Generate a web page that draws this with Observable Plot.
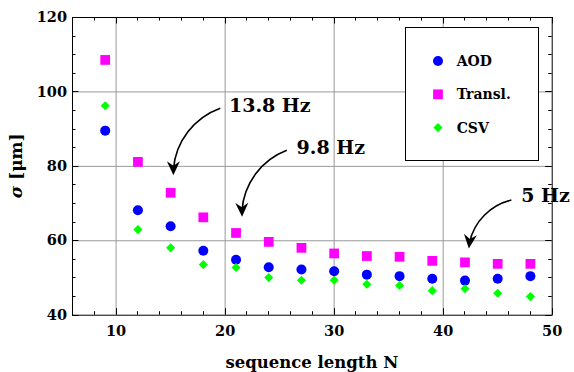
<!DOCTYPE html>
<html><head><meta charset="utf-8">
<script src="https://cdn.jsdelivr.net/npm/d3@7"></script>
<script src="https://cdn.jsdelivr.net/npm/@observablehq/plot@0.6"></script>
<style>body{margin:0;background:#fff} #chart{width:574px;height:372px}</style>
</head><body><div id="chart"></div>
<script>
// ---- data ----
const N      = [9, 12, 15, 18, 21, 24, 27, 30, 33, 36, 39, 42, 45, 48];
const aod    = [89.6, 68.2, 63.9, 57.3, 54.9, 52.9, 52.3, 51.8, 50.9, 50.5, 49.8, 49.3, 49.8, 50.5];
const transl = [108.6, 81.2, 72.9, 66.3, 62.1, 59.7, 58.1, 56.6, 55.9, 55.7, 54.6, 54.2, 53.8, 53.8];
const csv    = [96.3, 63.0, 58.1, 53.6, 52.8, 50.1, 49.4, 49.4, 48.3, 48.0, 46.6, 47.1, 45.9, 45.0];

const seriesNames   = ["AOD", "Transl.", "CSV"];
const seriesColors  = ["#0000ff", "#ff00ff", "#00ff00"];
const seriesSymbols = ["circle", "square", "diamond2"];
const seriesR       = [5, 5.5, 4.1];

const xTicks = [10, 20, 30, 40, 50];
const yTicks = [40, 60, 80, 100, 120];
const xGrid = [10, 20, 30, 40];
const yGrid = [60, 80, 100];
const xLabel = "sequence length N";
const yLabelSymbol = "σ";
const yLabelUnit = " [μm]";

// annotations (data coordinates)
const annLabels = ["13.8 Hz", "9.8 Hz", "5 Hz"];
const annTextX  = [20.4, 26.6, 47.2];
const annTextY  = [96.3, 85.1, 72.2];
const annFromX  = [19.6, 25.7, 46.3];
const annFromY  = [95.5, 84.2, 70.8];
const annToX    = [15.3, 21.6, 42.4];
const annToY    = [77.5, 66.3, 57.8];

// ---- table ----
const seriesValues = [aod, transl, csv];
const tables = seriesValues.map((vals, s) => N.map((n, i) => ({N: n, v: vals[i], s: seriesNames[s]})));

const FONT = "DejaVu Serif";
const symbolMap = {circle: d3.symbolCircle, square: d3.symbolSquare, diamond2: d3.symbolDiamond2};

function ticksMark(index, scales, values, dim) {
  const g = d3.create("svg:g").attr("stroke", "black").attr("stroke-width", 1).attr("fill", "none");
  const top = dim.marginTop, bottom = dim.height - dim.marginBottom;
  const left = dim.marginLeft, right = dim.width - dim.marginRight;
  const xs = d3.range(6, 50.01, 2), ys = d3.range(40, 120.01, 5);
  for (const v of xs) {
    const len = v % 10 === 0 ? 6.5 : 3.5;
    const px = Math.round(scales.x(v)) + 0.5;
    g.append("line").attr("x1", px).attr("x2", px).attr("y1", bottom).attr("y2", bottom - len);
    g.append("line").attr("x1", px).attr("x2", px).attr("y1", top).attr("y2", top + len);
  }
  for (const v of ys) {
    const len = v % 20 === 0 ? 6.5 : 3.5;
    const py = Math.round(scales.y(v)) + 0.5;
    g.append("line").attr("y1", py).attr("y2", py).attr("x1", left).attr("x2", left + len);
    g.append("line").attr("y1", py).attr("y2", py).attr("x1", right).attr("x2", right - len);
  }
  return g.node();
}

function legendMark(index, scales, values, dim) {
  const right = dim.width - dim.marginRight, top = dim.marginTop;
  const bw = 133.3, bh = 133.3;
  const bx = right - 13.4 - bw, by = top + 9.7;
  const g = d3.create("svg:g");
  g.append("rect").attr("x", Math.round(bx) + 0.5).attr("y", Math.round(by) + 0.5)
    .attr("width", Math.round(bw)).attr("height", Math.round(bh))
    .attr("fill", "white").attr("stroke", "black").attr("stroke-width", 1);
  seriesNames.forEach((name, i) => {
    const cy = by + 34.3 + i * 33.3;
    const mx = bx + 33;
    g.append("path")
      .attr("d", d3.symbol(symbolMap[seriesSymbols[i]], Math.PI * seriesR[i] * seriesR[i])())
      .attr("transform", `translate(${mx},${cy})`)
      .attr("fill", seriesColors[i]);
    g.append("text").attr("x", bx + 51.7).attr("y", cy).attr("dy", "0.36em")
      .attr("text-anchor", "start")
      .attr("font-family", FONT).attr("font-weight", "bold").attr("font-size", 14)
      .attr("fill", "black").text(name);
  });
  return g.node();
}

function annotationMark(index, scales, values, dim) {
  const g = d3.create("svg:g");
  const bend = 35 * Math.PI / 180;
  annLabels.forEach((t, i) => {
    const ax = scales.x(annFromX[i]), ay = scales.y(annFromY[i]);
    const bx = scales.x(annToX[i]), by = scales.y(annToY[i]);
    const dx = bx - ax, dy = by - ay, d = Math.hypot(dx, dy);
    const r = d / (2 * Math.sin(bend));
    const phi = Math.atan2(dy, dx) - bend;
    const ux = Math.cos(phi), uy = Math.sin(phi), nx = -uy, ny = ux;
    const L = 14, W = 6.5, K = 9.5;
    g.append("path").attr("d", `M${ax},${ay}A${r},${r} 0 0 0 ${bx - 6 * ux},${by - 6 * uy}`)
      .attr("fill", "none").attr("stroke", "black").attr("stroke-width", 1.6);
    const p1 = [bx - L * ux + W * nx, by - L * uy + W * ny];
    const p2 = [bx - K * ux, by - K * uy];
    const p3 = [bx - L * ux - W * nx, by - L * uy - W * ny];
    g.append("path").attr("d", `M${bx},${by}L${p1}L${p2}L${p3}Z`).attr("fill", "black");
    g.append("text").attr("x", scales.x(annTextX[i])).attr("y", scales.y(annTextY[i])).attr("dy", "0.36em")
      .attr("text-anchor", "start")
      .attr("font-family", FONT).attr("font-weight", "bold").attr("font-size", 19)
      .attr("fill", "black").text(t);
  });
  return g.node();
}

function labelsMark(index, scales, values, dim) {
  const g = d3.create("svg:g").attr("font-family", FONT).attr("font-weight", "bold").attr("fill", "black");
  const top = dim.marginTop, bottom = dim.height - dim.marginBottom;
  const left = dim.marginLeft, right = dim.width - dim.marginRight;
  g.append("text").attr("x", (left + right) / 2).attr("y", bottom + 53.5)
    .attr("text-anchor", "middle").attr("font-size", 16.5).text(xLabel);
  const yl = g.append("text").attr("transform", `translate(16.5,${(top + bottom) / 2}) rotate(-90)`)
    .attr("text-anchor", "middle").attr("dy", "0.35em").attr("font-size", 17);
  yl.append("tspan").attr("font-style", "italic").text(yLabelSymbol);
  yl.append("tspan").text(yLabelUnit);
  return g.node();
}

const chart = Plot.plot({
  width: 574, height: 372,
  marginLeft: 72, marginRight: 22.3, marginTop: 17, marginBottom: 57.3,
  x: {domain: [6, 50]},
  y: {domain: [40, 120]},
  style: {fontFamily: FONT, fontWeight: "bold", background: "white", color: "black"},
  marks: [
    Plot.gridX(xGrid, {stroke: "#999", strokeOpacity: 1, strokeWidth: 1}),
    Plot.gridY(yGrid, {stroke: "#999", strokeOpacity: 1, strokeWidth: 1}),
    legendMark,
    ...tables.map((tb, s) => Plot.dot(tb, {x: "N", y: "v", fill: seriesColors[s], stroke: null, symbol: seriesSymbols[s], r: seriesR[s]})),
    ticksMark,
    Plot.frame({stroke: "black", strokeWidth: 1}),
    Plot.axisX({ticks: xTicks, tickSize: 0, tickPadding: 10.5, fontSize: 14.5, label: null}),
    Plot.axisY({ticks: yTicks, tickSize: 0, tickPadding: 5.5, fontSize: 14.5, label: null}),
    annotationMark,
    labelsMark
  ]
});
document.getElementById("chart").appendChild(chart);
</script>
</body></html>
